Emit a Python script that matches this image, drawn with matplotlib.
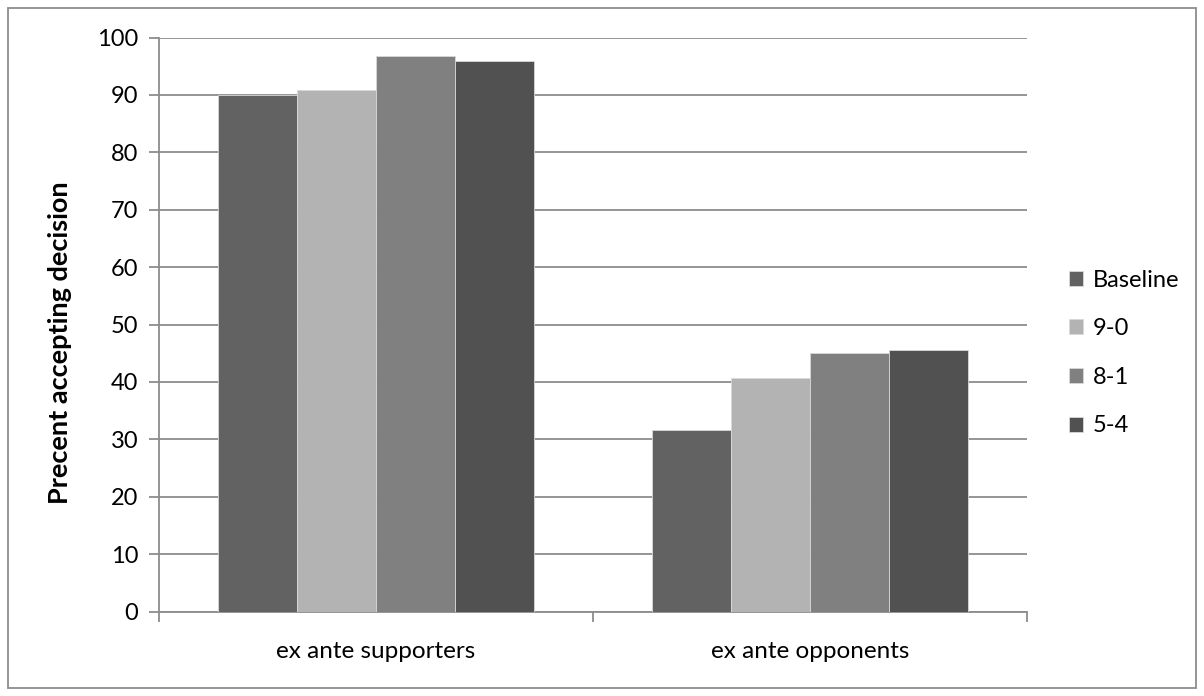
import matplotlib.pyplot as plt
from matplotlib.patches import Rectangle
import numpy as np

categories = ["ex ante supporters", "ex ante opponents"]
series_names = ["Baseline", "9-0", "8-1", "5-4"]
baseline = [89.9, 31.6]
nine_zero = [90.8, 40.6]
eight_one = [96.8, 45.0]
five_four = [95.9, 45.6]
colors = ["#626262", "#b3b3b3", "#808080", "#515151"]

plt.rcParams["font.family"] = ["Lato", "DejaVu Sans"]

fig = plt.figure(figsize=(12.04, 6.96), dpi=100)
ax = fig.add_axes([159 / 1204, 1 - 611.5 / 696, (1027 - 159) / 1204, (611.5 - 37.5) / 696])

x = np.arange(len(categories))
width = 0.182
values = [baseline, nine_zero, eight_one, five_four]
for i, (name, vals) in enumerate(zip(series_names, values)):
    ax.bar(x + (i - 1.5) * width, vals, width, color=colors[i], label=name,
           edgecolor="#d9d9d9", linewidth=0.6, zorder=3)

grid_c = "#8c8c8c"
ax.set_xlim(-0.5, 1.5)
ax.set_ylim(0, 100)
ax.set_yticks(range(0, 101, 10))
ax.yaxis.grid(True, color=grid_c, linewidth=1.3, zorder=0)
ax.set_xticks([-0.5, 0.5, 1.5])
ax.set_xticklabels([])
ax.set_xticks(x, minor=True)
ax.set_xticklabels(categories, minor=True, fontsize=17.5)
ax.tick_params(axis="x", which="minor", length=0, pad=21)
ax.tick_params(axis="x", which="major", length=7, color=grid_c, width=1.3)
ax.tick_params(axis="y", length=7, color=grid_c, width=1.3, labelsize=17, pad=8)
for s in ["top", "right"]:
    ax.spines[s].set_visible(False)
for s in ["left", "bottom"]:
    ax.spines[s].set_color(grid_c)
    ax.spines[s].set_linewidth(1.3)

fig.text(60 / 1204, 1 - 343 / 696, "Precent accepting decision", rotation=90,
         ha="center", va="center", fontsize=19.5, fontweight="bold")

ax.legend(loc="center left", bbox_to_anchor=(1048 / 1204, 1 - 353 / 696),
          bbox_transform=fig.transFigure, frameon=False, fontsize=17,
          handlelength=0.6, handleheight=0.6, handletextpad=0.4, labelspacing=1.17)

fig.patches.append(Rectangle((8 / 1204, 8 / 696), 1188 / 1204, 680 / 696,
                             transform=fig.transFigure, fill=False,
                             edgecolor="#8c8c8c", linewidth=1.3))

fig.savefig("out.png", dpi=100)
